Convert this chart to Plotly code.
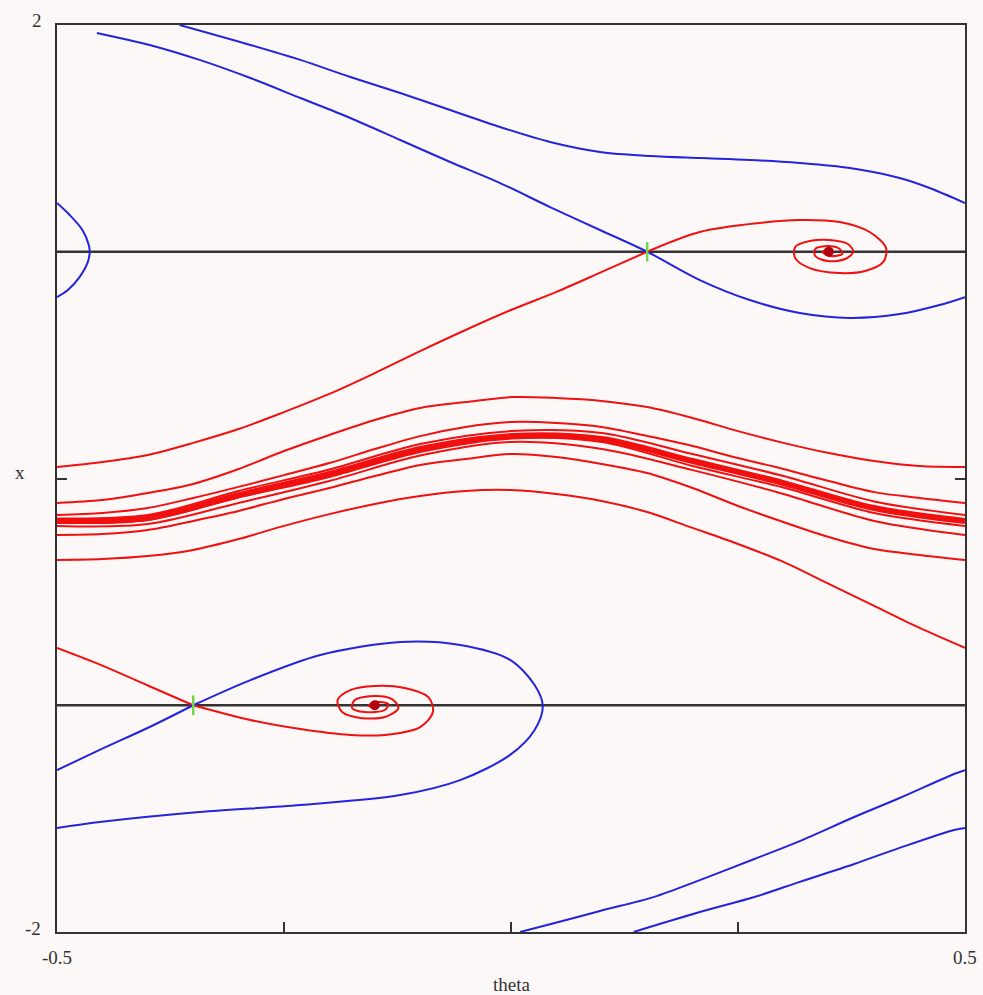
import plotly.graph_objects as go

# ---------------- data (theta, x) ----------------
saddle_theta = [0.15, -0.35]
saddle_x = [1.0, -1.0]
focus_theta = [0.35, -0.15]
focus_x = [1.0, -1.0]
nullline_theta = [-0.5, 0.5]
nullline_upper = [1.0, 1.0]
nullline_lower = [-1.0, -1.0]

# blue: stable manifolds
blue_top_a_theta = [-0.456, -0.398, -0.343, -0.287, -0.232, -0.177, -0.122, -0.067, -0.012, 0.043,
                    0.098, 0.15, 0.208, 0.263, 0.318, 0.373, 0.428, 0.472, 0.5]
blue_top_a_x = [1.965, 1.912, 1.846, 1.766, 1.678, 1.590, 1.493, 1.396, 1.303, 1.197,
                1.096, 1.0, 0.875, 0.787, 0.730, 0.708, 0.725, 0.765, 0.800]
blue_arc_theta = [-0.5, -0.486, -0.472, -0.465, -0.464, -0.466, -0.475, -0.488, -0.5]
blue_arc_x = [1.215, 1.162, 1.096, 1.030, 1.0, 0.955, 0.889, 0.831, 0.800]
blue_top_b_theta = [-0.365, -0.287, -0.232, -0.177, -0.122, -0.067, -0.012, 0.043, 0.098, 0.153,
                    0.208, 0.263, 0.318, 0.373, 0.428, 0.461, 0.5]
blue_top_b_x = [2.0, 1.912, 1.846, 1.771, 1.700, 1.625, 1.550, 1.484, 1.440, 1.422,
                1.413, 1.405, 1.391, 1.369, 1.325, 1.281, 1.215]
blue_loop_theta = [-0.35, -0.287, -0.210, -0.122, -0.056, -0.001, 0.026, 0.035, 0.026, -0.001,
                   -0.056, -0.122, -0.232, -0.343, -0.453, -0.5]
blue_loop_x = [-1.0, -0.889, -0.778, -0.721, -0.734, -0.800, -0.911, -1.003, -1.109, -1.219,
               -1.330, -1.396, -1.440, -1.471, -1.515, -1.541]
blue_low_left_theta = [-0.5, -0.453, -0.398, -0.35]
blue_low_left_x = [-1.286, -1.197, -1.096, -1.0]
blue_low_a_theta = [0.5, 0.488, 0.428, 0.378, 0.318, 0.268, 0.208, 0.157, 0.098, 0.044, 0.010]
blue_low_a_x = [-1.286, -1.303, -1.409, -1.493, -1.599, -1.678, -1.771, -1.846, -1.907, -1.965, -2.0]
blue_low_b_theta = [0.5, 0.488, 0.428, 0.378, 0.318, 0.268, 0.208, 0.135]
blue_low_b_x = [-1.541, -1.550, -1.629, -1.700, -1.779, -1.846, -1.912, -2.0]

# red: unstable manifolds
grid_theta = [0.5, 0.45, 0.4, 0.35, 0.3, 0.25, 0.2, 0.15, 0.1, 0.05, 0.0,
              -0.05, -0.1, -0.15, -0.2, -0.25, -0.3, -0.35, -0.4, -0.45, -0.5]
band_theta = [0.5, 0.4, 0.3, 0.2, 0.1, 0.0, -0.1, -0.2, -0.3, -0.4, -0.5]

red_r1_theta = [0.15, 0.1, 0.05, 0.0, -0.05, -0.1, -0.15, -0.2, -0.25, -0.3, -0.35, -0.4, -0.45, -0.5]
red_r1_x = [1.0, 0.911, 0.823, 0.743, 0.655, 0.562, 0.465, 0.373, 0.293, 0.218, 0.157, 0.104, 0.073, 0.051]
red_r2_theta = [-0.35, -0.4, -0.45, -0.5]
red_r2_x = [-1.0, -0.913, -0.825, -0.747]
red_a_x = [0.051, 0.055, 0.077, 0.112, 0.157, 0.209, 0.267, 0.315, 0.342, 0.355, 0.359,
           0.337, 0.311, 0.258, 0.192, 0.121, 0.042, -0.024, -0.064, -0.095, -0.108]
red_b_x = [-0.108, -0.086, -0.060, -0.011, 0.042, 0.090, 0.143, 0.187, 0.227, 0.245, 0.249,
           0.227, 0.187, 0.130, 0.068, 0.015, -0.037, -0.086, -0.130, -0.152, -0.161]
red_ll_x = [-0.747, -0.659, -0.562, -0.465, -0.368, -0.289, -0.218, -0.148, -0.099, -0.068, -0.051,
            -0.055, -0.077, -0.112, -0.157, -0.209, -0.267, -0.315, -0.342, -0.355, -0.359]
red_e_x = [-0.359, -0.337, -0.311, -0.258, -0.192, -0.121, -0.042, 0.024, 0.064, 0.095, 0.108,
           0.086, 0.060, 0.011, -0.042, -0.090, -0.143, -0.187, -0.227, -0.245, -0.249]
red_cu_x = [-0.161, -0.101, 0.011, 0.108, 0.201, 0.209, 0.152, 0.040, -0.055, -0.161, -0.176]
red_f_x = [-0.249, -0.187, -0.068, 0.037, 0.130, 0.161, 0.101, -0.011, -0.108, -0.201, -0.209]
red_cl_x = [-0.209, -0.152, -0.040, 0.055, 0.161, 0.176, 0.117, 0.007, -0.084, -0.183, -0.196]
red_cycle_x = [-0.187, -0.130, -0.020, 0.077, 0.174, 0.187, 0.130, 0.020, -0.073, -0.174, -0.187]

spiral_top_theta = [0.15, 0.208, 0.274, 0.318, 0.362, 0.395, 0.413, 0.410, 0.390, 0.362, 0.329, 0.313,
                    0.313, 0.329, 0.351, 0.371, 0.377, 0.368, 0.349, 0.335, 0.335, 0.349, 0.362, 0.365,
                    0.351, 0.343, 0.351]
spiral_top_x = [1.0, 1.087, 1.127, 1.140, 1.131, 1.087, 1.017, 0.955, 0.915, 0.906, 0.928, 0.972,
                1.021, 1.047, 1.052, 1.034, 1.0, 0.968, 0.959, 0.981, 1.012, 1.025, 1.012, 0.991,
                0.981, 1.0, 1.009]
spiral_bot_theta = [-0.35, -0.287, -0.232, -0.177, -0.139, -0.100, -0.086, -0.091, -0.117, -0.150,
                    -0.177, -0.191, -0.186, -0.166, -0.139, -0.124, -0.131, -0.150, -0.172, -0.175,
                    -0.161, -0.139, -0.135, -0.150, -0.157, -0.150]
spiral_bot_x = [-1.0, -1.065, -1.105, -1.131, -1.131, -1.096, -1.030, -0.964, -0.924, -0.915,
                -0.933, -0.977, -1.030, -1.056, -1.052, -1.012, -0.973, -0.959, -0.977, -1.012,
                -1.030, -1.021, -0.995, -0.986, -1.003, -1.008]

theta_ticks = [-0.5, -0.25, 0, 0.25, 0.5]
x_ticks = [-2, 0, 2]

# ---------------- figure ----------------
RED = "#f01010"
BLUE = "#2424dc"
BG = "#fdf8f8"
INK = "#333333"

fig = go.Figure()

def line(t, x, color, width=2.0):
    fig.add_trace(go.Scatter(x=t, y=x, mode="lines",
                             line=dict(color=color, width=width, shape="spline", smoothing=0.9),
                             hoverinfo="skip", showlegend=False))

# black lines x = 1 and x = -1
fig.add_trace(go.Scatter(x=nullline_theta, y=nullline_upper, mode="lines",
                         line=dict(color=INK, width=2.5), showlegend=False, hoverinfo="skip"))
fig.add_trace(go.Scatter(x=nullline_theta, y=nullline_lower, mode="lines",
                         line=dict(color=INK, width=2.5), showlegend=False, hoverinfo="skip"))

# red curves
line(red_r1_theta, red_r1_x, RED)
line(red_r2_theta, red_r2_x, RED)
line(grid_theta, red_a_x, RED)
line(grid_theta, red_b_x, RED)
line(grid_theta, red_ll_x, RED)
line(grid_theta, red_e_x, RED)
line(band_theta, red_cycle_x, RED, width=6)
line(band_theta, red_cu_x, RED)
line(band_theta, red_f_x, RED)
line(band_theta, red_cl_x, RED)
line(spiral_top_theta, spiral_top_x, RED)
line(spiral_bot_theta, spiral_bot_x, RED)

# blue curves
line(blue_top_a_theta, blue_top_a_x, BLUE)
line(blue_arc_theta, blue_arc_x, BLUE)
line(blue_top_b_theta, blue_top_b_x, BLUE)
line(blue_loop_theta, blue_loop_x, BLUE)
line(blue_low_left_theta, blue_low_left_x, BLUE)
line(blue_low_a_theta, blue_low_a_x, BLUE)
line(blue_low_b_theta, blue_low_b_x, BLUE)

# equilibria
fig.add_trace(go.Scatter(x=focus_theta, y=focus_x, mode="markers",
                         marker=dict(color="#b00010", size=10, line=dict(width=0)),
                         showlegend=False, hoverinfo="skip"))
fig.add_trace(go.Scatter(x=saddle_theta, y=saddle_x, mode="markers",
                         marker=dict(symbol="line-ns", size=14, line=dict(color="#70d848", width=2.5)),
                         showlegend=False, hoverinfo="skip"))

axis_common = dict(showgrid=False, zeroline=False, showline=True, linecolor=INK, linewidth=2,
                   ticks="inside", ticklen=10, tickwidth=1.5, tickcolor=INK, showticklabels=False)

fig.update_xaxes(range=[-0.5, 0.5], tickvals=theta_ticks, mirror=True, **axis_common)
fig.update_yaxes(range=[-2, 2], tickvals=[x_ticks[1]], mirror="ticks", **axis_common)

FONT = dict(family="Liberation Serif, DejaVu Serif, serif", size=19, color=INK)
labels = [
    (str(x_ticks[2]), -0.022, 1.0055, "center", "middle"),
    (str(x_ticks[0]), -0.026, 0.0035, "center", "middle"),
    ("x", -0.041, 0.507, "center", "middle"),
    (str(theta_ticks[0]), 0.0, -0.028, "center", "middle"),
    (str(theta_ticks[-1]), 1.0, -0.028, "center", "middle"),
    ("theta", 0.501, -0.0575, "center", "middle"),
]
for text, ax, ay, xa, ya in labels:
    fig.add_annotation(text=text, x=ax, y=ay, xref="paper", yref="paper",
                       xanchor=xa, yanchor=ya, showarrow=False, font=FONT)

fig.update_layout(width=983, height=995, autosize=False,
                  margin=dict(l=57, r=18, t=25, b=63),
                  paper_bgcolor=BG, plot_bgcolor=BG)

fig.write_html("out.html")
